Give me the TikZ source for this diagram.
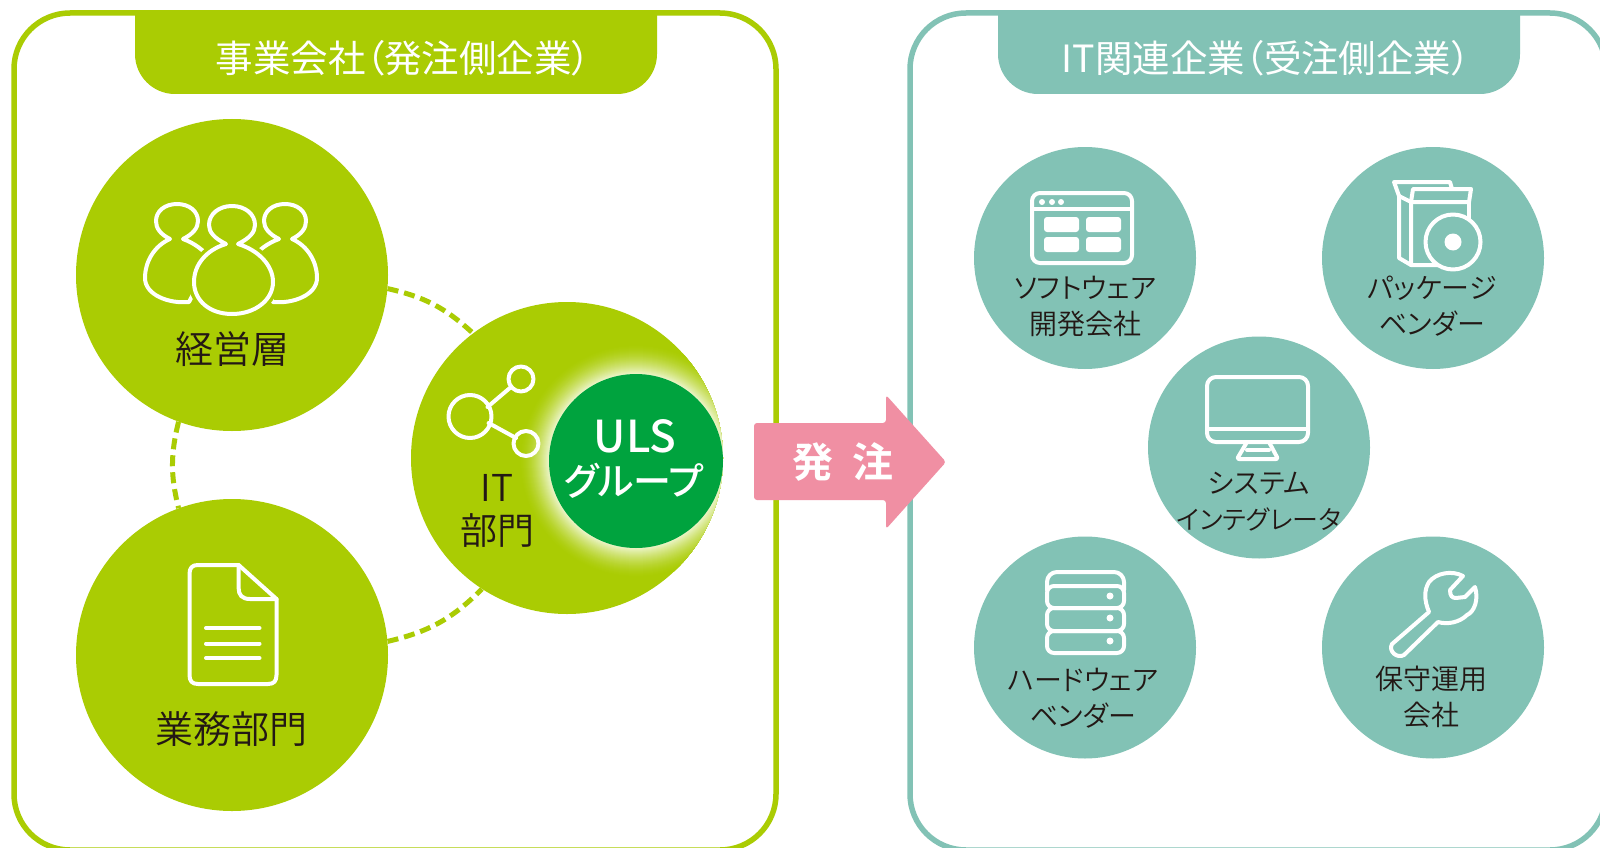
\documentclass[tikz,border=0pt]{standalone}
\usepackage{fontspec}
\setmainfont[RawFeature=+palt]{Noto Sans CJK JP DemiLight}
\newfontfamily\medfont[RawFeature=+palt]{Noto Sans CJK JP}
\newfontfamily\heavyfont[RawFeature=+palt]{Noto Sans CJK JP Medium}
\newfontfamily\boldfont[RawFeature=+palt]{Noto Sans CJK JP Bold}
\definecolor{leaf}{HTML}{AACC03}
\definecolor{teal2}{HTML}{82C2B5}
\definecolor{deepgreen}{HTML}{00A33E}
\definecolor{pinkarrow}{HTML}{F08FA3}
\definecolor{inktext}{HTML}{231815}
\definecolor{glowin}{HTML}{EDF5CC}
\tikzset{
  panelbox/.style={line width=5.5pt,fill=white,rounded corners=56pt},
  bigcircle/.style={circle,fill=leaf,minimum size=312pt,inner sep=0pt},
  smallcircle/.style={circle,fill=teal2,minimum size=222pt,inner sep=0pt},
  ringline/.style={draw=leaf,line width=5pt,dash pattern=on 11pt off 6pt},
  iconline/.style={draw=white,line width=4pt,line join=round,line cap=round},
  biglabel/.style={text=inktext,font=\fontsize{38}{44}\selectfont,align=center,inner sep=0pt},
  smalllabel/.style={text=inktext,font=\fontsize{28}{36}\selectfont,align=center,inner sep=0pt},
  headtext/.style={text=white,font=\medfont\fontsize{37.5}{40}\selectfont,inner sep=0pt}
}
\begin{document}
\begin{tikzpicture}[x=1pt,y=-1pt]
    \useasboundingbox (0,0) rectangle (1600,848);
    \fill[white] (0,0) rectangle (1600,848);
    % panels and their tabs
    \draw[panelbox,draw=leaf] (14,13) rectangle (776,850);
    \draw[panelbox,draw=teal2] (910,13) rectangle (1606,850);
    \fill[leaf] (135,11) [rounded corners=40pt] -- (135,94) -- (657,94) [sharp corners] -- (657,11) -- cycle;
    \fill[teal2] (998,11) [rounded corners=40pt] -- (998,94) -- (1520,94) [sharp corners] -- (1520,11) -- cycle;
    \node[headtext] (lefthead) at (403,58) {事業会社（発注側企業）};
    \node[headtext] (righthead) at (1266,58) {IT関連企業（受注側企業）};
    % left circles
    \node[bigcircle] (mgmt) at (232,275) {};
    \node[bigcircle] (biz) at (232,655) {};
    \node[bigcircle] (itdept) at (567,458) {};
    \draw[ringline] (mgmt.-5) to[bend left=15] (itdept.127);
    \draw[ringline] (mgmt.-110) to[bend right=14] (biz.110);
    \draw[ringline] (biz.5) to[bend right=16] (itdept.237);
    \begin{scope}
      \clip (567,458) circle (156);
      \foreach \rr in {117,116,...,87} {
        \pgfmathsetmacro{\mx}{100*((117-\rr)/30)^1.6}
        \fill[glowin!\mx!leaf] (636,461) circle (\rr);
      }
    \end{scope}
    \node[circle,fill=deepgreen,minimum size=174pt,inner sep=0pt] (uls) at (636,461) {};
    \node[biglabel] (mgmtlabel) at (232,349) {経営層};
    \node[biglabel] (bizlabel) at (231,729) {業務部門};
    \node[biglabel,font=\fontsize{37}{43}\selectfont] (itlabel) at (497,511) {IT\\部門};
    \node[text=white,font=\heavyfont\fontsize{44}{44}\selectfont,inner sep=0pt] (ulstext) at (635,436) {ULS};
    \node[text=white,font=\heavyfont\fontsize{38}{38}\selectfont,inner sep=0pt] (ulstext2) at (634,481) {グループ};
    % people icon
    \foreach \sx in {1,-1} {
      \draw[iconline,shift={(231,0)},xscale=\sx] (-61,239) .. controls (-71,234) and (-75,228) .. (-75,221)
        .. controls (-75,211) and (-66,204) .. (-54,204) .. controls (-42,204) and (-33,211) .. (-33,221)
        .. controls (-33,228) and (-38,234) .. (-48,239) .. controls (-37,243) and (-27,250) .. (-20,260)
        -- (-42,302) .. controls (-62,304) and (-86,295) .. (-86,278) .. controls (-86,262) and (-77,246) .. (-61,239) -- cycle;
    }
    \draw[iconline,fill=leaf,preaction={draw=leaf,line width=11pt}] (226,244) .. controls (214,238) and (209,232) .. (209,225)
      .. controls (209,214) and (219,206) .. (232,206) .. controls (245,206) and (255,214) .. (255,225)
      .. controls (255,232) and (250,238) .. (238,244) .. controls (258,250) and (273,265) .. (273,282)
      .. controls (273,300) and (255,314) .. (232,314) .. controls (209,314) and (194,300) .. (194,282)
      .. controls (194,265) and (206,250) .. (226,244) -- cycle;
    % document icon
    \draw[iconline] (238.6,565) -- (198,565) .. controls (192,565) and (189.5,568) .. (189.5,574)
      -- (189.5,675) .. controls (189.5,681) and (192,684) .. (198,684) -- (268,684)
      .. controls (274,684) and (276.5,681) .. (276.5,675) -- (276.5,599) -- cycle;
    \draw[iconline] (238.6,565) -- (238.6,588) .. controls (238.6,595) and (242,599) .. (250,599) -- (276.5,599);
    \foreach \yy in {628,643.5,658} {
      \draw[iconline] (206,\yy) -- (259.5,\yy);
    }
    % share icon
    \draw[iconline] (487.5,407) -- (511,387);
    \draw[iconline] (488.6,423) -- (516,438);
    \draw[iconline] (470,416.5) circle (21.5);
    \draw[iconline] (521,379) circle (12.5);
    \draw[iconline] (526,443.5) circle (12.5);
    % order arrow
    \fill[pinkarrow,rounded corners=3pt] (754,423) -- (886,423) -- (886,395) -- (946,462) -- (886,529) -- (886,500) -- (754,500) -- cycle;
    \node[text=white,font=\boldfont\fontsize{41}{41}\selectfont,inner sep=0pt] (ordertext) at (843,462) {発\hspace{19pt}注};
    % right circles
    \node[smallcircle] (soft) at (1085,258) {};
    \node[smallcircle] (pack) at (1433,258) {};
    \node[smallcircle] (sier) at (1259,447.5) {};
    \node[smallcircle] (hard) at (1085,647.5) {};
    \node[smallcircle] (maint) at (1433,647.5) {};
    \node[smalllabel] (softlabel) at (1085,306.5) {ソフトウェア\\開発会社};
    \node[smalllabel] (packlabel) at (1432,306.5) {パッケージ\\ベンダー};
    \node[smalllabel] (sierlabel) at (1259,502) {システム\\{\fontsize{26}{36}\selectfont インテグレータ}};
    \node[smalllabel] (hardlabel) at (1083,698) {ハードウェア\\ベンダー};
    \node[smalllabel] (maintlabel) at (1431,697) {保守運用\\会社};
    % window icon
    \draw[iconline,rounded corners=8pt] (1032,193) rectangle (1132,263);
    \draw[iconline] (1032,209) -- (1132,209);
    \foreach \xx in {1042,1052,1061} {
      \fill[white] (\xx,202) circle (3);
    }
    \fill[white,rounded corners=3pt] (1044,217) rectangle (1079,232);
    \fill[white,rounded corners=3pt] (1086,217) rectangle (1121,232);
    \fill[white,rounded corners=3pt] (1044,237) rectangle (1079,252);
    \fill[white,rounded corners=3pt] (1086,237) rectangle (1121,252);
    % package icon
    \draw[iconline] (1399,196) -- (1394,182) -- (1450,182) -- (1452,189);
    \draw[iconline] (1399,196) -- (1399,258) -- (1411,265) -- (1440,265);
    \draw[iconline] (1399,196) -- (1411,202) -- (1411,265);
    \draw[iconline] (1411,202) -- (1413,189) -- (1471,189) -- (1469,202) -- cycle;
    \draw[iconline] (1469,202) -- (1469,225);
    \draw[iconline,fill=teal2] (1453,242) circle (27.5);
    \fill[white] (1453,242) circle (8.5);
    % monitor icon
    \draw[iconline,rounded corners=9pt] (1207,377) rectangle (1308,442);
    \draw[iconline] (1207,429) -- (1308,429);
    \draw[iconline,rounded corners=2pt] (1247,442) -- (1237,459) -- (1278,459) -- (1269,442);
    \draw[iconline] (1247,450) -- (1269,450);
    % server icon
    \draw[iconline,rounded corners=7pt] (1047,586) rectangle (1124,608);
    \draw[iconline,rounded corners=7pt] (1047,608) rectangle (1124,631);
    \draw[iconline,rounded corners=7pt] (1047,631) rectangle (1124,653);
    \draw[iconline,rounded corners=10pt] (1047,590) -- (1047,572) -- (1124,572) -- (1124,590);
    \foreach \yy in {596,618,641} {
      \fill[white] (1110,\yy) circle (3.5);
    }
    % wrench icon
    \draw[iconline] (1392,644) -- (1429,612) .. controls (1424,600) and (1424,590) .. (1429,582)
      .. controls (1436,573) and (1452,570) .. (1463,576) -- (1450,590)
      .. controls (1450,596) and (1452,598) .. (1456,598) -- (1465,597) -- (1475,587)
      .. controls (1479,600) and (1474,612) .. (1467,615) .. controls (1460,622) and (1448,625) .. (1438,622)
      -- (1404,655) .. controls (1397,659) and (1388,651) .. (1392,644) -- cycle;
\end{tikzpicture}
\end{document}
